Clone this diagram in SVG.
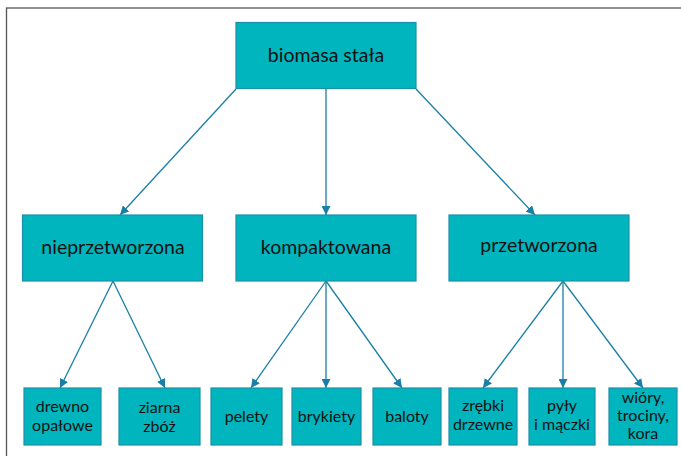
<svg xmlns="http://www.w3.org/2000/svg" width="681" height="456" viewBox="0 0 681 456">
<style>
.box{fill:#00B5BD;stroke:#1C8FA8;stroke-width:1.2}
.t{font-family:Lato,"Open Sans",sans-serif;fill:#111;text-anchor:middle}
.l{font-size:19.5px}
.s{font-size:16px}
.c{stroke:#1A7FA6;stroke-width:1.3;fill:none;marker-end:url(#ah)}
</style>
<defs>
<marker id="ah" viewBox="0 0 10 10" refX="10" refY="5" markerWidth="9" markerHeight="9" markerUnits="userSpaceOnUse" orient="auto">
<path d="M0,0 L10,5 L0,10 z" fill="#1A7FA6"/>
</marker>
</defs>
<rect x="0" y="0" width="681" height="456" fill="#fff"/>
<rect x="6.5" y="8" width="690" height="470" fill="none" stroke="#555" stroke-width="1.3"/>
<g id="connectors">
<line class="c" x1="236" y1="89" x2="120" y2="215"/>
<line class="c" x1="326" y1="89" x2="326" y2="215"/>
<line class="c" x1="416" y1="89" x2="535" y2="215"/>
<line class="c" x1="113" y1="281" x2="60" y2="388"/>
<line class="c" x1="113" y1="281" x2="165" y2="388"/>
<line class="c" x1="326" y1="281" x2="251" y2="388"/>
<line class="c" x1="326" y1="281" x2="326" y2="388"/>
<line class="c" x1="326" y1="281" x2="402" y2="388"/>
<line class="c" x1="563" y1="281" x2="483" y2="388"/>
<line class="c" x1="563" y1="281" x2="563" y2="388"/>
<line class="c" x1="563" y1="281" x2="643" y2="388"/>
</g>
<g id="biomasa"><rect class="box" x="236" y="22.5" width="180" height="66"/><text class="t l" x="326" y="62">biomasa stała</text></g>
<g id="nieprzetworzona"><rect class="box" x="22.5" y="215" width="180" height="66"/><text class="t l" x="113" y="254">nieprzetworzona</text></g>
<g id="kompaktowana"><rect class="box" x="236" y="215" width="180" height="66"/><text class="t l" x="326" y="254">kompaktowana</text></g>
<g id="przetworzona"><rect class="box" x="449" y="215" width="180" height="66"/><text class="t l" x="539" y="252">przetworzona</text></g>
<g id="drewno"><rect class="box" x="24" y="388" width="77" height="57"/><text class="t s" x="62.5" y="412">drewno</text><text class="t s" x="62.5" y="431">opałowe</text></g>
<g id="ziarna"><rect class="box" x="119" y="388" width="81" height="57"/><text class="t s" x="159.5" y="413">ziarna</text><text class="t s" x="159.5" y="432">zbóż</text></g>
<g id="pelety"><rect class="box" x="211" y="388" width="71" height="57"/><text class="t s" x="246.5" y="422">pelety</text></g>
<g id="brykiety"><rect class="box" x="292" y="388" width="69" height="57"/><text class="t s" x="326.5" y="422">brykiety</text></g>
<g id="baloty"><rect class="box" x="373" y="388" width="68" height="57"/><text class="t s" x="407" y="422">baloty</text></g>
<g id="zrebki"><rect class="box" x="449" y="388" width="68" height="57"/><text class="t s" x="483" y="411">zrębki</text><text class="t s" x="483" y="430">drzewne</text></g>
<g id="pyly"><rect class="box" x="529" y="388" width="66" height="57"/><text class="t s" x="562" y="411">pyły</text><text class="t s" x="562" y="430">i mączki</text></g>
<g id="wiory"><rect class="box" x="609" y="388" width="68" height="57"/><text class="t s" x="643" y="403">wióry,</text><text class="t s" x="643" y="421">trociny,</text><text class="t s" x="643" y="439">kora</text></g>
</svg>
